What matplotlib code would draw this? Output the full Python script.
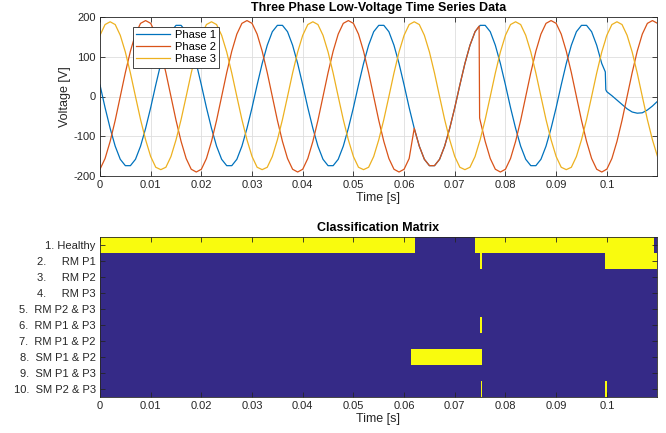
import numpy as np
import matplotlib
matplotlib.use("Agg")
import matplotlib.pyplot as plt

plt.rcParams['font.family'] = ['Liberation Sans', 'DejaVu Sans']
plt.rcParams['axes.unicode_minus'] = False

# sample times in ms: 1 ms grid, plus two extra points at each sharp step
t_ms = np.concatenate([np.arange(0, 75), [74.8, 74.9], np.arange(75, 100),
                       [99.7, 99.8], np.arange(100, 111)])

phase1 = [29, -28, -80, -125, -158, -174, -174, -158, -125, -80,
          -28, 29, 83, 129, 163, 179, 179, 163, 129, 83,
          29, -28, -80, -125, -158, -174, -174, -158, -125, -80,
          -28, 29, 83, 129, 163, 179, 179, 163, 129, 83,
          29, -28, -80, -125, -158, -174, -174, -158, -125, -80,
          -28, 29, 83, 129, 163, 179, 179, 163, 129, 83,
          29, -28, -80, -125, -158, -174, -174, -158, -125, -80,
          -28, 29, 83, 129, 163,
          176, 177,
          179, 179, 163, 129, 83,
          29, -28, -80, -125, -158, -174, -174, -158, -125, -80,
          -28, 29, 83, 129, 163, 179, 179, 163, 129, 83,
          62, 17,
          12, 2, -9, -20, -31, -39, -42, -41, -34, -24, -12]

phase2 = [-183, -156, -113, -60, 0, 60, 114, 157, 184, 191,
          184, 157, 114, 60, 0, -60, -113, -156, -183, -190,
          -183, -156, -113, -60, 0, 60, 114, 157, 184, 191,
          184, 157, 114, 60, 0, -60, -113, -156, -183, -190,
          -183, -156, -113, -60, 0, 60, 114, 157, 184, 191,
          184, 157, 114, 60, 0, -60, -113, -156, -183, -190,
          -183, -156, -80, -125, -158, -174, -174, -158, -125, -80,
          -28, 29, 83, 129, 163,
          177, -54,
          -60, -113, -156, -183, -190,
          -183, -156, -113, -60, 0, 60, 114, 157, 184, 191,
          184, 157, 114, 60, 0, -60, -113, -156, -183, -190,
          -185, -184,
          -183, -156, -113, -60, 0, 60, 114, 157, 184, 191, 184]

phase3 = [154, 181, 188, 181, 154, 112, 59, 0, -58, -109,
          -151, -178, -184, -178, -151, -109, -58, 0, 59, 112,
          154, 181, 188, 181, 154, 112, 59, 0, -58, -109,
          -151, -178, -184, -178, -151, -109, -58, 0, 59, 112,
          154, 181, 188, 181, 154, 112, 59, 0, -58, -109,
          -151, -178, -184, -178, -151, -109, -58, 0, 59, 112,
          154, 181, 188, 181, 154, 112, 59, 0, -58, -109,
          -151, -178, -184, -178, -151,
          -117, -113,
          -109, -58, 0, 59, 112,
          154, 181, 188, 181, 154, 112, 59, 0, -58, -109,
          -151, -178, -184, -178, -151, -109, -58, 0, 59, 112,
          141, 146,
          154, 181, 188, 181, 154, 112, 59, 0, -58, -109, -151]

phase_names = ['Phase 1', 'Phase 2', 'Phase 3']
phase_colors = ['#0072BD', '#D95319', '#EDB120']

classes = ['1. Healthy', '2.     RM P1', '3.     RM P2', '4.     RM P3',
           '5.  RM P2 & P3', '6.  RM P1 & P3', '7.  RM P1 & P2',
           '8.  SM P1 & P2', '9.  SM P1 & P3', '10.  SM P2 & P3']

# active intervals (start, end) in seconds for each class
healthy = [(0.0, 0.0622), (0.0739, 0.1093)]
rm_p1 = [(0.0749, 0.0754), (0.0996, 0.1100)]
rm_p2 = []
rm_p3 = []
rm_p2_p3 = []
rm_p1_p3 = [(0.0749, 0.0754)]
rm_p1_p2 = []
sm_p1_p2 = [(0.0614, 0.0754)]
sm_p1_p3 = []
sm_p2_p3 = [(0.0752, 0.0754), (0.0996, 0.1000)]
active = [healthy, rm_p1, rm_p2, rm_p3, rm_p2_p3, rm_p1_p3, rm_p1_p2,
          sm_p1_p2, sm_p1_p3, sm_p2_p3]

xticks = [0, 0.01, 0.02, 0.03, 0.04, 0.05, 0.06, 0.07, 0.08, 0.09, 0.1]
xlim = (0, 0.1099)
axcol = '#262626'

fig = plt.figure(figsize=(6.66, 4.33), dpi=100)
ax1 = fig.add_axes([100 / 666, 1 - 176 / 433, 557 / 666, 159 / 433])
ax2 = fig.add_axes([100 / 666, 1 - 397 / 433, 557 / 666, 160 / 433])


def style(ax):
    for s in ax.spines.values():
        s.set_color(axcol)
        s.set_linewidth(0.6)
    ax.tick_params(direction='in', top=True, right=True, length=3.5,
                   width=0.6, color=axcol, labelcolor=axcol, labelsize=8, pad=3)
    ax.set_xlim(*xlim)
    ax.set_xticks(xticks)
    ax.set_xticklabels([f'{v:g}' for v in xticks])


t = t_ms / 1000.0
for vals, name, col in zip([phase1, phase2, phase3], phase_names, phase_colors):
    ax1.plot(t, vals, color=col, lw=0.9, label=name)
style(ax1)
ax1.set_ylim(-200, 200)
ax1.set_yticks([-200, -100, 0, 100, 200])
ax1.grid(True, color='#dedede', lw=0.6)
ax1.set_axisbelow(True)
ax1.set_xlabel('Time [s]', fontsize=9, color=axcol, labelpad=1)
ax1.set_ylabel('Voltage [V]', fontsize=9, color=axcol, labelpad=2)
ax1.set_title('Three Phase Low-Voltage Time Series Data', fontsize=9,
              fontweight='bold', pad=4)
leg = ax1.legend(loc='upper left', bbox_to_anchor=(0.059, 0.94), fontsize=8,
                 fancybox=False, framealpha=1, edgecolor=axcol, borderaxespad=0,
                 handlelength=3.0, labelspacing=0.2, borderpad=0.3,
                 handletextpad=0.5)
leg.get_frame().set_linewidth(0.6)

ax2.set_facecolor('#352A87')
for row, spans in enumerate(active):
    if spans:
        ax2.broken_barh([(a, b - a) for a, b in spans], (row + 0.5, 1),
                        facecolors='#F9FB0E', edgecolors='none')
style(ax2)
ax2.set_ylim(len(classes) + 0.5, 0.5)
ax2.set_yticks(range(1, len(classes) + 1))
ax2.set_yticklabels(classes)
ax2.set_xlabel('Time [s]', fontsize=9, color=axcol, labelpad=1)
ax2.set_title('Classification Matrix', fontsize=9, fontweight='bold', pad=4)

fig.savefig('out.png', dpi=100)
